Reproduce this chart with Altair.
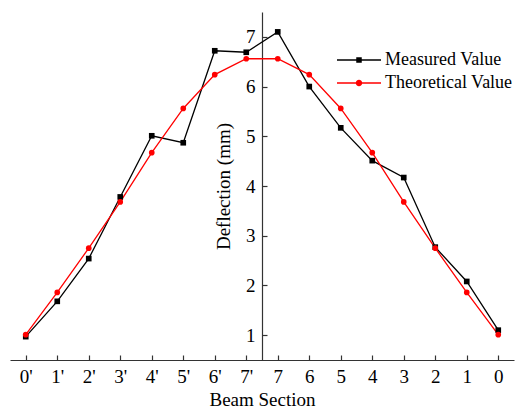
import altair as alt
import pandas as pd

sections = ["0'", "1'", "2'", "3'", "4'", "5'", "6'", "7'", "7", "6", "5", "4", "3", "2", "1", "0"]
measured = [0.97, 1.68, 2.54, 3.78, 5.01, 4.87, 6.72, 6.69, 7.10, 6.00, 5.17, 4.51, 4.17, 2.77, 2.08, 1.10]
theoretical = [1.01, 1.86, 2.75, 3.68, 4.67, 5.56, 6.24, 6.56, 6.56, 6.24, 5.56, 4.67, 3.68, 2.75, 1.86, 1.01]
series_names = ["Measured Value", "Theoretical Value"]
series_colors = ["#000000", "#ff0000"]
y_ticks = [1, 2, 3, 4, 5, 6, 7]

rows = []
for name, vals in zip(series_names, [measured, theoretical]):
    for i, (s, v) in enumerate(zip(sections, vals)):
        rows.append({"section": s, "idx": i, "value": v, "series": name})
df = pd.DataFrame(rows)

FONT = "Liberation Serif"
W, H = 504, 348
AX = "#333333"

x_scale = alt.Scale(domain=sections, padding=0.5)
y_scale = alt.Scale(domain=[0.5, 7.5], nice=False, zero=False)
color_scale = alt.Scale(domain=series_names, range=series_colors)

# legend symbol paths: line + marker (units of sqrt(size)/2)
line_rect = "M-7.8,-0.14L1,-0.14L1,0.14L-7.8,0.14Z"
sq = "M-3.95,-0.55L-2.85,-0.55L-2.85,0.55L-3.95,0.55Z"
circ = "M-4.05,0A0.65,0.65 0 1,1 -2.75,0A0.65,0.65 0 1,1 -4.05,0Z"
legend_shapes = [line_rect + sq, line_rect + circ]

base = alt.Chart(df)

lines = base.mark_line(strokeWidth=1.3).encode(
    x=alt.X("section:O", scale=x_scale, axis=alt.Axis(
        orient="bottom", title="Beam Section", labelAngle=0, ticks=False, tickSize=0,
        labelPadding=7, titlePadding=4, domainColor=AX, domainWidth=1.2,
        labelFont=FONT, labelFontSize=19, labelColor="black",
        titleFont=FONT, titleFontSize=19, titleFontWeight="normal", titleColor="black")),
    y=alt.Y("value:Q", scale=y_scale, axis=alt.Axis(
        orient="left", offset=-W / 2, values=y_ticks, format="d", ticks=False, tickSize=0,
        labelPadding=7, titlePadding=12, domainColor=AX, domainWidth=1.2,
        labelFont=FONT, labelFontSize=19, labelColor="black",
        title="Deflection (mm)", titleFont=FONT, titleFontSize=19,
        titleFontWeight="normal", titleColor="black")),
    color=alt.Color("series:N", scale=color_scale, legend=None),
    order="idx:Q",
)

points = base.mark_point(filled=True, opacity=1, size=32).encode(
    x=alt.X("section:O", scale=x_scale, axis=None),
    y=alt.Y("value:Q", scale=y_scale, axis=None),
    color=alt.Color("series:N", scale=color_scale, legend=None),
    shape=alt.Shape("series:N", scale=alt.Scale(domain=series_names, range=["square", "circle"]), legend=None),
)

leg = alt.Legend(orient="none", legendX=357, legendY=39, title=None, labelFont=FONT,
                 labelFontSize=18, labelColor="black", symbolSize=100, symbolStrokeWidth=0,
                 symbolOpacity=1, labelOffset=0, rowPadding=5, padding=0)

dummy = base.mark_point(filled=True, opacity=0, size=100).encode(
    x=alt.X("section:O", scale=x_scale, axis=alt.Axis(
        orient="top", offset=-H, labels=False, domain=False, ticks=True, tickSize=5,
        tickColor=AX, tickWidth=1.2, title=None)),
    y=alt.Y("value:Q", scale=y_scale, axis=alt.Axis(
        orient="right", offset=-W / 2, values=y_ticks, labels=False, domain=False,
        ticks=True, tickSize=5, tickColor=AX, tickWidth=1.2, title=None)),
    color=alt.Color("series:N", scale=color_scale, legend=leg),
    shape=alt.Shape("series:N", scale=alt.Scale(domain=series_names, range=legend_shapes), legend=leg),
)

chart = alt.layer(lines, points, dummy).resolve_scale(
    color="independent", shape="independent"
).resolve_axis(
    x="independent", y="independent"
).properties(
    width=W, height=H,
    autosize=alt.AutoSizeParams(type="none"),
    padding={"left": 2, "top": 4, "right": 4, "bottom": 48},
    background="white",
).configure_axis(grid=False).configure_view(strokeWidth=0)

chart.save("out.html", embed_options={"renderer": "svg", "actions": False})
